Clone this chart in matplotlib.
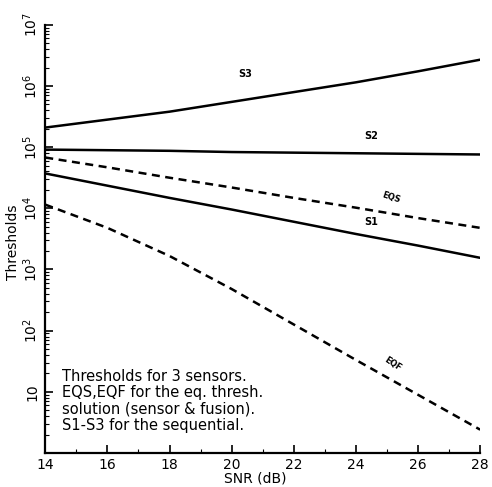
import matplotlib.pyplot as plt
import numpy as np
from matplotlib.ticker import FixedLocator, LogLocator, NullFormatter

# SNR grid (dB) and thresholds, stored as log10 values
snr = [14, 16, 18, 20, 22, 24, 26, 28]
log_s3 = [5.32, 5.45, 5.58, 5.74, 5.90, 6.06, 6.24, 6.43]
log_s2 = [4.96, 4.95, 4.94, 4.92, 4.91, 4.90, 4.89, 4.88]
log_eqs = [4.83, 4.67, 4.50, 4.34, 4.17, 4.01, 3.84, 3.68]
log_s1 = [4.57, 4.37, 4.17, 3.98, 3.78, 3.58, 3.39, 3.19]
log_eqf = [4.06, 3.68, 3.22, 2.68, 2.10, 1.52, 0.95, 0.38]

ytick_vals = [1e1, 1e2, 1e3, 1e4, 1e5, 1e6, 1e7]
ytick_labels = ['10', r'$10^{2}$', r'$10^{3}$', r'$10^{4}$', r'$10^{5}$', r'$10^{6}$', r'$10^{7}$']
xtick_vals = [14, 16, 18, 20, 22, 24, 26, 28]

fig = plt.figure(figsize=(4.92, 4.87), dpi=100)
ax = fig.add_axes([0.092, 0.070, 0.884, 0.879])

x = np.array(snr)
dash = (0, (3.2, 2.2))
ax.semilogy(x, 10 ** np.array(log_s3), color='black', lw=1.8)
ax.semilogy(x, 10 ** np.array(log_s2), color='black', lw=1.8)
ax.semilogy(x, 10 ** np.array(log_eqs), color='black', lw=1.8, ls=dash)
ax.semilogy(x, 10 ** np.array(log_s1), color='black', lw=1.8)
ax.semilogy(x, 10 ** np.array(log_eqf), color='black', lw=1.8, ls=dash)

ax.set_xlim(14, 28)
ax.set_ylim(1, 1e7)

ax.spines['top'].set_visible(False)
ax.spines['right'].set_visible(False)
ax.spines['left'].set_linewidth(1.6)
ax.spines['bottom'].set_linewidth(1.6)

ax.xaxis.set_major_locator(FixedLocator(xtick_vals))
ax.xaxis.set_minor_locator(FixedLocator([15, 17, 19, 21, 23, 25, 27]))
ax.set_xticklabels([str(v) for v in xtick_vals], fontsize=10)
ax.yaxis.set_major_locator(FixedLocator(ytick_vals))
ax.set_yticklabels(ytick_labels, rotation=90, va='center', fontsize=10)
ax.yaxis.set_minor_locator(LogLocator(base=10, subs=np.arange(2, 10)))
ax.yaxis.set_minor_formatter(NullFormatter())

ax.tick_params(which='major', direction='in', length=6, width=1.2, pad=4)
ax.tick_params(which='minor', direction='in', length=3, width=0.8)

ax.set_xlabel('SNR (dB)', fontsize=10)
ax.xaxis.set_label_coords(0.483, -0.044)
ax.set_ylabel('Thresholds', fontsize=10)
ax.yaxis.set_label_coords(-0.058, 0.493)

# curve labels
ax.text(20.45, 10 ** 6.19, 'S3', fontsize=7, fontweight='bold', ha='center', va='center')
ax.text(24.5, 10 ** 5.19, 'S2', fontsize=7, fontweight='bold', ha='center', va='center')
ax.text(25.15, 10 ** 4.18, 'EQS', fontsize=6, fontweight='bold', ha='center', va='center', rotation=-18)
ax.text(24.5, 10 ** 3.78, 'S1', fontsize=7, fontweight='bold', ha='center', va='center')
ax.text(25.2, 10 ** 1.45, 'EQF', fontsize=6, fontweight='bold', ha='center', va='center', rotation=-33)

ax.text(0.039, 0.196,
        'Thresholds for 3 sensors.\n'
        'EQS,EQF for the eq. thresh.\n'
        'solution (sensor & fusion).\n'
        'S1-S3 for the sequential.',
        transform=ax.transAxes, fontsize=10.5, va='top', ha='left', linespacing=1.1)

fig.savefig('out.png', dpi=100)
